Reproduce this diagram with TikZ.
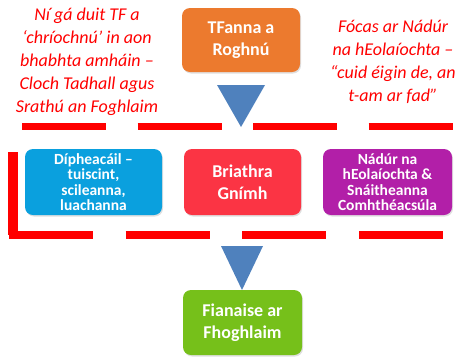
\documentclass[tikz,border=0pt]{standalone}
\usepackage{fontspec}
\setmainfont{Carlito}
\usetikzlibrary{shadows}
\definecolor{cOrange}{HTML}{EC7A2E}
\definecolor{cBlue}{HTML}{0AA0DE}
\definecolor{cRed}{HTML}{FB3444}
\definecolor{cPurple}{HTML}{B21FA8}
\definecolor{cGreen}{HTML}{76C01A}
\definecolor{cArrow}{HTML}{4F81BD}
\begin{document}
\begin{tikzpicture}[x=1pt,y=-1pt,
  box/.style={rounded corners=8pt, text=white, align=center, inner sep=0pt,
    font=\bfseries\fontsize{18}{21.5}\selectfont,
    drop shadow={shadow xshift=1pt, shadow yshift=-1.5pt, opacity=0.25}},
  tight/.style={font=\bfseries\fontsize{15.5}{15.5}\selectfont},
  note/.style={text=red, align=center, font=\itshape\fontsize{18}{23}\selectfont},
  redline/.style={draw=red, line width=7.5pt, line cap=butt},
  downarrow/.style={fill=cArrow}]
\useasboundingbox (0,0) rectangle (460,357);
% dashed red lines
\draw[redline, dash pattern=on 84pt off 31.5pt] (22,126.5) -- (452.5,126.5);
\draw[redline, dash pattern=on 84pt off 32.7pt] (9,235) -- (447,235);
\draw[redline, line width=10pt] (13,152) -- (13,235);
% boxes
\node[box, fill=cOrange, minimum width=118pt, minimum height=64pt] (tf) at (241,40) {TFanna a\\Roghnú};
\node[box, tight, fill=cBlue, minimum width=137pt, minimum height=66pt] (dip) at (93.5,182) {Dípheacáil –\\tuiscint,\\scileanna,\\luachanna};
\node[box, fill=cRed, minimum width=117pt, minimum height=66pt] (bri) at (242.5,182) {Briathra\\Gnímh};
\node[box, tight, fill=cPurple, minimum width=129pt, minimum height=66pt] (nad) at (387.5,182) {Nádúr na\\hEolaíochta \&\\Snáitheanna\\Comhthéacsúla};
\node[box, fill=cGreen, minimum width=119pt, minimum height=65pt] (fia) at (242.5,322.5) {Fianaise ar\\Fhoghlaim};
% block arrows
\fill[downarrow] (217,85) -- (265,85) -- (241,127) -- cycle;
\fill[downarrow] (221,246) -- (263,246) -- (242,290) -- cycle;
% notes
\node[note] (nl) at (87,62) {Ní gá duit TF a\\‘chríochnú’ in aon\\bhabhta amháin –\\Cloch Tadhall agus\\Srathú an Foghlaim};
\node[note] (nr) at (393,61.5) {Fócas ar Nádúr\\na hEolaíochta –\\“cuid éigin de, an\\t-am ar fad”};
\end{tikzpicture}
\end{document}
